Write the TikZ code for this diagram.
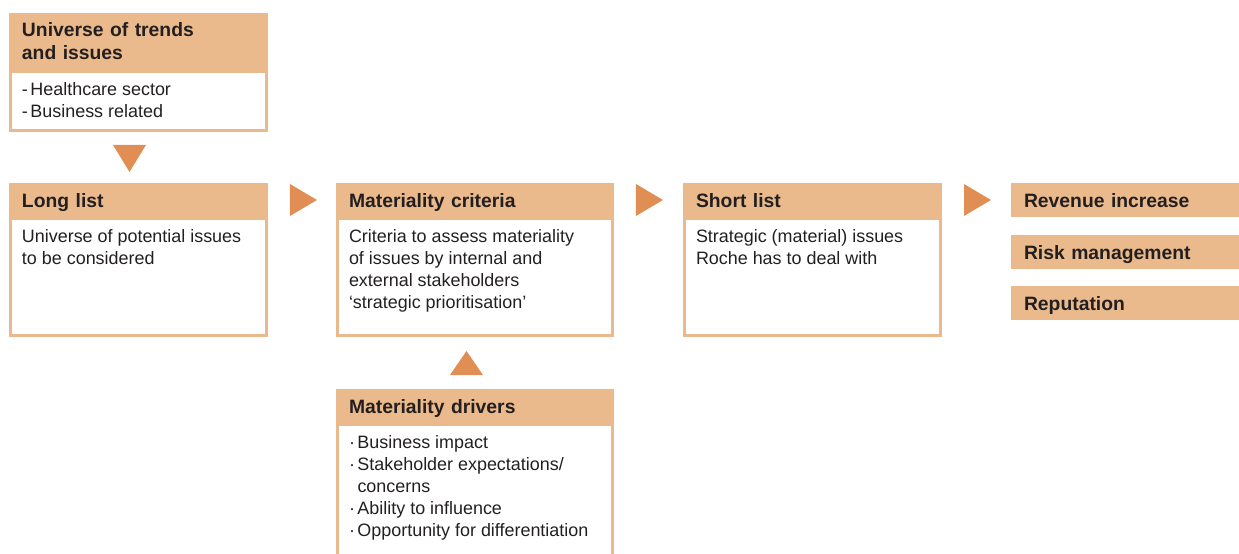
\documentclass[tikz,border=0pt]{standalone}
\usepackage{fontspec}
\setmainfont{Liberation Sans}
\usetikzlibrary{calc}

\definecolor{RocheSand}{RGB}{235,186,140}
\definecolor{RocheOrange}{RGB}{224,142,84}
\definecolor{RocheText}{RGB}{35,31,32}

% top aligned text block of fixed height inside a frame
\newcommand{\boxbody}[3]{\parbox[t][#2][t]{#1}{\raggedright #3}}
\newcommand{\itm}[1]{\makebox[0.17cm][l]{#1}}

\begin{document}
\begin{tikzpicture}[
        head/.style={fill=RocheSand, draw=RocheSand, line width=1.7pt, anchor=north west,
            inner xsep=0.23cm, inner ysep=0pt, align=left, text=RocheText,
            font=\fontsize{11}{13}\selectfont\bfseries},
        bar/.style={head, minimum height=0.62cm, text height=0.3cm, text depth=0cm},
        body/.style={draw=RocheSand, line width=1.7pt, anchor=north west,
            inner xsep=0.23cm, inner ysep=0.22cm, text=RocheText,
            font=\fontsize{10.2}{12.5}\selectfont},
        tri/.style={fill=RocheOrange}
    ]
    \useasboundingbox (0,0) rectangle (24.78,-11.06);
    \clip (0,0) rectangle (24.78,-11.06);

    \node[head, text width=4.66cm, minimum height=1.08cm] (unihead) at (0.18,-0.26) {Universe of trends\\and issues};
    \node[body] (unibody) at (unihead.south west) {\boxbody{4.66cm}{0.74cm}{\itm{-}Healthcare sector\\\itm{-}Business related}};

    \node[bar, text width=4.66cm] (longhead) at (0.18,-3.66) {Long list};
    \node[body] (longbody) at (longhead.south west) {\boxbody{4.66cm}{1.9cm}{Universe of potential issues\\to be considered}};

    \node[bar, text width=5.04cm] (crithead) at (6.72,-3.66) {Materiality criteria};
    \node[body] (critbody) at (crithead.south west) {\boxbody{5.04cm}{1.9cm}{Criteria to assess materiality\\of issues by internal and\\external stakeholders\\`strategic prioritisation'}};

    \node[bar, text width=4.66cm] (shorthead) at (13.66,-3.66) {Short list};
    \node[body] (shortbody) at (shorthead.south west) {\boxbody{4.66cm}{1.9cm}{Strategic (material) issues\\Roche has to deal with}};

    \node[bar, text width=5cm] (revenue) at (20.22,-3.66) {Revenue increase};
    \node[bar, text width=5cm] (risk) at (20.22,-4.70) {Risk management};
    \node[bar, text width=5cm] (reputation) at (20.22,-5.72) {Reputation};

    \node[bar, text width=5.04cm] (drivhead) at (6.72,-7.78) {Materiality drivers};
    \node[body] (drivbody) at (drivhead.south west) {\boxbody{5.04cm}{3cm}{\itm{·}Business impact\\\itm{·}Stakeholder expectations/\\\itm{}concerns\\\itm{·}Ability to influence\\\itm{·}Opportunity for differentiation}};

    % arrow heads between the steps
    \fill[tri] ($(unibody.south west)+(2.08,-0.26)$) -- ($(unibody.south west)+(2.74,-0.26)$) -- ($(unibody.south west)+(2.41,-0.80)$) -- cycle;
    \fill[tri] ($(longhead.north east)+(0.44,-0.02)$) -- ($(longhead.south east)+(0.44,0.02)$) -- ($(longhead.east)+(0.98,0)$) -- cycle;
    \fill[tri] ($(crithead.north east)+(0.44,-0.02)$) -- ($(crithead.south east)+(0.44,0.02)$) -- ($(crithead.east)+(0.98,0)$) -- cycle;
    \fill[tri] ($(shorthead.north east)+(0.44,-0.02)$) -- ($(shorthead.south east)+(0.44,0.02)$) -- ($(shorthead.east)+(0.98,0)$) -- cycle;
    \fill[tri] ($(drivhead.north west)+(2.28,0.28)$) -- ($(drivhead.north west)+(2.94,0.28)$) -- ($(drivhead.north west)+(2.61,0.76)$) -- cycle;
\end{tikzpicture}
\end{document}
